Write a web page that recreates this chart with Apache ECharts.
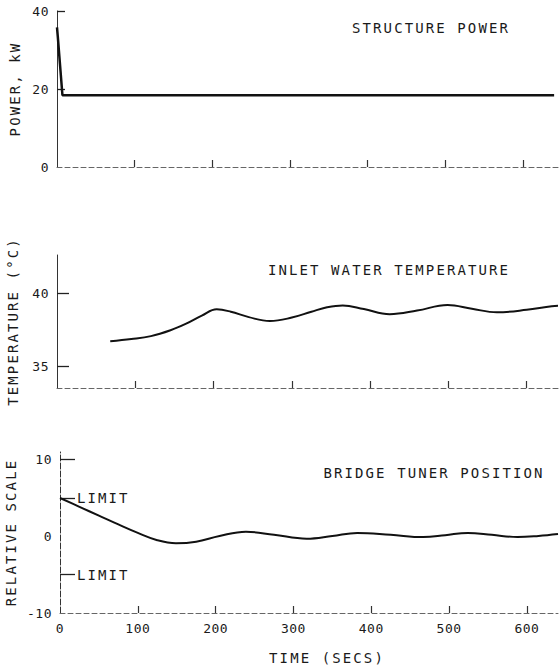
<!DOCTYPE html>
<html><head><meta charset="utf-8">
<script src="https://cdn.jsdelivr.net/npm/echarts@6/dist/echarts.min.js"></script>
<style>
html,body{margin:0;padding:0;background:#fff;}
#chart{width:560px;height:670px;}
#chart text[style*="14px"]{letter-spacing:2.1px;}
#chart text[style*="13px"]{letter-spacing:0.5px;}
</style></head><body><div id="chart"></div>
<script>
// ---- data ----
const timeLabels = [0, 100, 200, 300, 400, 500, 600];
const timeTickValues = [100, 200, 300, 400, 500, 600];
const powerTime = [0, 1, 7, 640];
const powerKW = [35.8, 33.5, 18.4, 18.4];
const tempTime = [68, 95, 120, 145, 165, 185, 204, 222, 245, 272, 300, 325, 345, 365, 392, 425, 460, 499, 530, 562, 600, 632, 640];
const tempC = [36.7, 36.85, 37.05, 37.45, 37.9, 38.45, 38.88, 38.72, 38.35, 38.08, 38.32, 38.72, 39.02, 39.15, 38.9, 38.55, 38.8, 39.18, 38.92, 38.68, 38.85, 39.1, 39.12];
const tunerTime = [0, 25, 50, 75, 100, 125, 149, 175, 205, 239, 275, 317, 350, 382, 425, 467, 495, 524, 555, 588, 615, 640];
const tunerPos = [5.0, 3.85, 2.7, 1.55, 0.45, -0.5, -0.9, -0.7, 0.05, 0.6, 0.2, -0.3, 0.05, 0.45, 0.2, -0.1, 0.15, 0.45, 0.2, -0.1, 0.05, 0.3];
const limitValues = [5, -5];
const powerTicks = [40, 20];
const powerLabels = [40, 20, 0];
const tempTicks = [40, 35];
const tempLabels = [40, 35];
const tunerTicks = [10, 5, -5];
const tunerLabels = [10, 0, -10];
const titles = ['STRUCTURE POWER', 'INLET WATER TEMPERATURE', 'BRIDGE TUNER POSITION'];
const yNames = ['POWER, kW', 'TEMPERATURE (°C)', 'RELATIVE SCALE'];
const xName = 'TIME (SECS)';
const limitText = 'LIMIT';

const FONT = "'DejaVu Sans Mono', monospace";
const INK = '#1a1a1a';
const zip = (a, b) => a.map((v, i) => [v, b[i]]);

const grids = [
  {left: 57, top: 11, width: 501, height: 156, outerBoundsMode: 'none', containLabel: false},
  {left: 57, top: 255, width: 501, height: 133, outerBoundsMode: 'none', containLabel: false},
  {left: 60, top: 452, width: 498, height: 161, outerBoundsMode: 'none', containLabel: false}
];
const xMax = [645, 640, 640];

const xAxes = grids.map((g, i) => ({
  type: 'value', gridIndex: i, min: 0, max: xMax[i], interval: 100,
  splitLine: {show: false},
  axisLine: {show: true, onZero: false, lineStyle: {color: '#666', width: 1, type: [5, 3]}},
  axisTick: {show: true, inside: true, length: 7, customValues: timeTickValues, lineStyle: {color: '#333', width: 1.2}},
  axisLabel: {show: i === 2, margin: 9, customValues: timeLabels, color: INK, fontFamily: FONT, fontSize: 13},
  name: i === 2 ? xName : '', nameLocation: 'middle', nameGap: 38,
  nameTextStyle: {color: INK, fontFamily: FONT, fontSize: 14, padding: [0, 0, 0, 36]}
}));

const yCfg = [
  {min: 0, max: 40, ticks: powerTicks, labels: powerLabels, tickLen: 8, gap: 35, dash: 'solid'},
  {min: 33.5, max: 42.6, ticks: tempTicks, labels: tempLabels, tickLen: 12, gap: 37.5, dash: 'solid'},
  {min: -10, max: 11, ticks: tunerTicks, labels: tunerLabels, tickLen: 15, gap: 33, dash: [6, 2]}
];
const yAxes = yCfg.map((c, i) => ({
  type: 'value', gridIndex: i, min: c.min, max: c.max,
  splitLine: {show: false},
  axisLine: {show: true, onZero: false, lineStyle: {color: '#333', width: 1, type: c.dash}},
  axisTick: {show: true, inside: true, length: c.tickLen, customValues: c.ticks, lineStyle: {color: '#222', width: 1.3}},
  axisLabel: {show: true, margin: 8, customValues: c.labels, color: INK, fontFamily: FONT, fontSize: 13},
  name: yNames[i], nameLocation: 'middle', nameRotate: 90, nameGap: c.gap,
  nameTextStyle: {color: INK, fontFamily: FONT, fontSize: 14}
}));

const lineSeries = (i, data, width, smooth) => ({
  type: 'line', xAxisIndex: i, yAxisIndex: i, data: data,
  showSymbol: false, symbol: 'none', smooth: smooth,
  lineStyle: {color: '#111', width: width}
});

const titlePos = [[431, 28], [389, 270], [434, 473]];

const chart = echarts.init(document.getElementById('chart'), null, {renderer: 'svg'});
chart.setOption({
  animation: false,
  backgroundColor: '#fff',
  grid: grids,
  xAxis: xAxes,
  yAxis: yAxes,
  series: [
    lineSeries(0, zip(powerTime, powerKW), 2.5, false),
    lineSeries(1, zip(tempTime, tempC), 2, 0.4),
    lineSeries(2, zip(tunerTime, tunerPos), 2, 0.4)
  ],
  graphic: titles.map((t, i) => ({
    type: 'text', id: 'title' + i, x: titlePos[i][0], y: titlePos[i][1],
    style: {text: t, font: "14px " + FONT, fill: INK, textAlign: 'center', textVerticalAlign: 'middle'}
  }))
});

const limitGraphics = limitValues.map((v, k) => {
  const p = chart.convertToPixel({gridIndex: 2}, [0, v]);
  return {
    type: 'text', id: 'limit' + k, x: p[0] + 17, y: p[1],
    style: {text: limitText, font: "14px " + FONT, fill: INK, textAlign: 'left', textVerticalAlign: 'middle'}
  };
});
chart.setOption({graphic: limitGraphics});
</script></body></html>
